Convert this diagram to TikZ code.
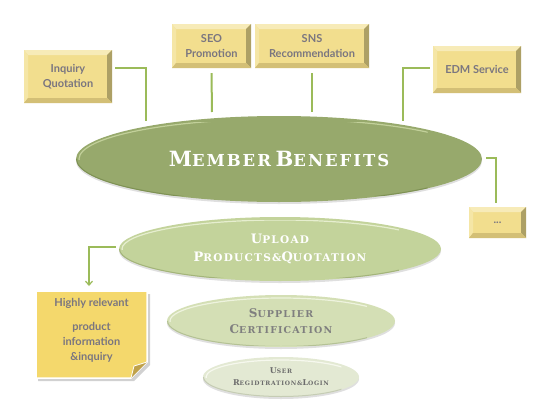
\documentclass[tikz,border=0pt]{standalone}
\usepackage{fontspec}
\setmainfont{Lato}
\newfontfamily\cpfont{DejaVu Serif}[LetterSpace=12]
\usetikzlibrary{shapes.geometric,arrows.meta,shadows}
\definecolor{face}{HTML}{F2DE8E}
\definecolor{btop}{HTML}{F7EBB8}
\definecolor{bleft}{HTML}{F5E6A6}
\definecolor{bright}{HTML}{ADA065}
\definecolor{bbot}{HTML}{D3BF76}
\definecolor{boxtext}{HTML}{7A7680}
\definecolor{conn}{HTML}{9BBB59}
\definecolor{mainfill}{HTML}{97A96C}
\definecolor{mainhl}{HTML}{C2D09A}
\definecolor{mainlo}{HTML}{7E9154}
\definecolor{upfill}{HTML}{C3D39B}
\definecolor{uphl}{HTML}{E6EECF}
\definecolor{uplo}{HTML}{A3B47A}
\definecolor{supfill}{HTML}{D4DFB5}
\definecolor{suphl}{HTML}{EEF3DE}
\definecolor{suplo}{HTML}{B4C195}
\definecolor{usfill}{HTML}{E3E9D3}
\definecolor{ushl}{HTML}{F6F8EE}
\definecolor{uslo}{HTML}{C5CCB4}
\definecolor{notefill}{HTML}{F4D86C}
\definecolor{notefold}{HTML}{BFA14A}
\definecolor{gtext}{HTML}{7F7F7F}
\newcommand\bsm[4]{{\fontsize{#1}{#1}\selectfont #3}{\fontsize{#2}{#2}\selectfont #4}}
\tikzset{
  bevelbox/.style={rectangle, fill=face, inner sep=0pt, align=center, text=boxtext,
    font=\bfseries\fontsize{11}{14.5}\selectfont,
    path picture={
      \path (path picture bounding box.north west) coordinate (NW)
            (path picture bounding box.north east) coordinate (NE)
            (path picture bounding box.south west) coordinate (SW)
            (path picture bounding box.south east) coordinate (SE);
      \fill[btop] (NW) -- (NE) -- ([xshift=-5pt,yshift=-5pt]NE) -- ([xshift=4pt,yshift=-5pt]NW) -- cycle;
      \fill[bleft] (NW) -- ([xshift=4pt,yshift=-5pt]NW) -- ([xshift=4pt,yshift=5pt]SW) -- (SW) -- cycle;
      \fill[bright] (NE) -- (SE) -- ([xshift=-5pt,yshift=5pt]SE) -- ([xshift=-5pt,yshift=-5pt]NE) -- cycle;
      \fill[bbot] (SW) -- (SE) -- ([xshift=-5pt,yshift=5pt]SE) -- ([xshift=4pt,yshift=5pt]SW) -- cycle;
    }},
  oval/.style={ellipse, inner sep=0pt, align=center, font=\cpfont\bfseries,
    drop shadow={opacity=0.25, shadow xshift=0pt, shadow yshift=-2pt}},
  conn/.style={draw=conn, line width=2pt},
  arr/.style={draw=conn, line width=1.2pt, -{Straight Barb[length=4pt,width=7pt]}},
}
\begin{document}
\begin{tikzpicture}[x=1pt,y=-1pt]
\useasboundingbox[fill=white] (0,0) rectangle (554,415);

% boxes
\node[bevelbox, minimum width=88pt, minimum height=53pt] (inq) at (68,76.5) {Inquiry\\Quotation};
\node[bevelbox, minimum width=79pt, minimum height=44pt] (seo) at (211.5,46) {SEO\\Promotion};
\node[bevelbox, minimum width=114pt, minimum height=44pt] (sns) at (312,46) {SNS\\Recommendation};
\node[bevelbox, minimum width=88pt, minimum height=47pt] (edm) at (477,69.5) {EDM Service};
\node[bevelbox, minimum width=57pt, minimum height=31pt] (dots) at (497.5,222.5) {...};

% ellipses
\node[oval, fill=usfill, minimum width=156pt, minimum height=40pt, text=gtext!85!black] (user) at (281,377)
  {\bsm{8}{6}{U}{SER}\\[0pt]\bsm{8}{6}{R}{EGIDTRATION\&}\bsm{8}{6}{L}{OGIN}};
\node[oval, fill=supfill, minimum width=228pt, minimum height=52pt, text=gtext] (sup) at (281,321)
  {\bsm{12}{9.5}{S}{UPPLIER}\\[4pt]\bsm{12}{9.5}{C}{ERTIFICATION}};
\node[oval, fill=upfill, minimum width=322pt, minimum height=64pt, text=white] (up) at (280,249)
  {\bsm{13}{10.5}{U}{PLOAD}\\[6pt]\bsm{13}{10.5}{P}{RODUCTS\&}\bsm{13}{10.5}{Q}{UOTATION}};
\node[oval, fill=mainfill, minimum width=406pt, minimum height=86pt, text=white] (main) at (279,159)
  {\bsm{21}{16.5}{M}{EMBER} \bsm{21}{16.5}{B}{ENEFITS}};

% rims
\foreach \n/\rx/\ry/\hl/\lo in {main/203/43/mainhl/mainlo, up/161/32/uphl/uplo, sup/114/26/suphl/suplo, user/78/20/ushl/uslo}{
  \begin{scope}
    \clip ([xshift=-5pt]\n.west) rectangle ([xshift=5pt,yshift=6pt]\n.north east);
    \draw[\hl, line width=1.2pt] (\n.center) ellipse [x radius=\rx-3, y radius=\ry-3];
  \end{scope}
  \begin{scope}
    \clip ([xshift=-5pt]\n.west) rectangle ([xshift=5pt,yshift=-6pt]\n.south east);
    \draw[\lo, line width=1pt] (\n.center) ellipse [x radius=\rx-0.5, y radius=\ry-0.5];
  \end{scope}
}

% connectors
\coordinate (inqend) at (146,121);
\coordinate (seoend) at (212,112);
\coordinate (snsend) at (312,112);
\coordinate (edmend) at (403,121);
\coordinate (mainR) at (486,158);
\draw[conn] ([xshift=3pt,yshift=8.5pt]inq.east) -| (inqend);
\draw[conn] ([yshift=-5pt]seo.south) -- (seoend);
\draw[conn] ([yshift=-5pt]sns.south) -- (snsend);
\draw[conn] ([xshift=-3pt,yshift=1.5pt]edm.west) -| (edmend);
\draw[conn] (mainR) -| ([yshift=4pt]dots.north -| 496,0);

% sticky note
\coordinate (arrend) at (89,286);
\fill[black, opacity=0.18] (38,294) -- (150,294) -- (150,365) -- (134,381) -- (38,381) -- cycle;
\filldraw[fill=notefill, draw=white, line width=1.5pt] (36,291) -- (147,291) -- (147,362) -- (131,378) -- (36,378) -- cycle;
\fill[notefold] (147,362) -- (131,378) -- (134,366) -- cycle;
\draw[white, line width=0.8pt] (147,362) -- (134,366) -- (131,378);
\node[align=center, text=boxtext, font=\bfseries\fontsize{11}{15}\selectfont] (note) at (91.5,330)
  {Highly relevant\\[9pt]product\\information\\\&inquiry};
\draw[arr] ([xshift=-3pt,yshift=2pt]up.west) -| (arrend);
\end{tikzpicture}
\end{document}
